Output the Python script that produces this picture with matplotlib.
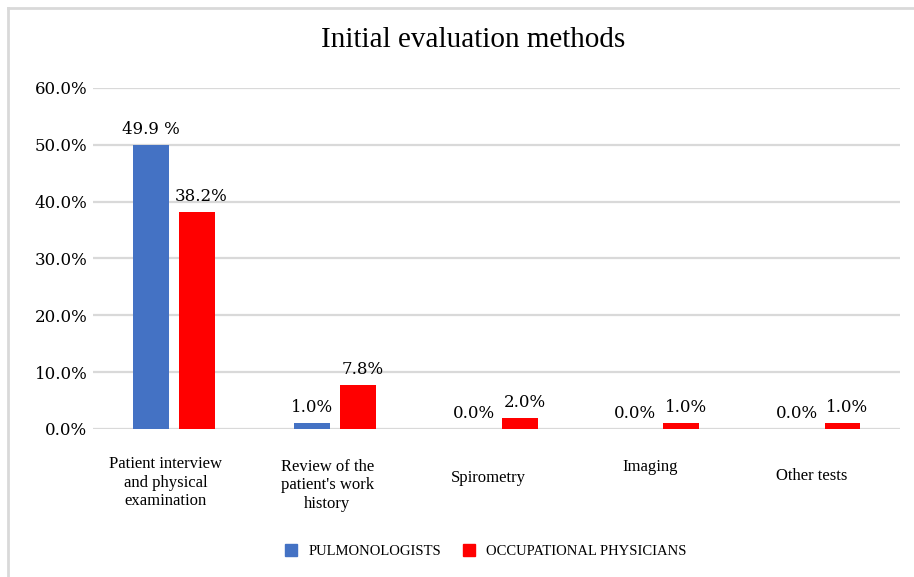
import matplotlib.pyplot as plt
import matplotlib.transforms as mtransforms
from matplotlib.lines import Line2D
import numpy as np

plt.rcParams['font.family'] = ['Liberation Serif', 'DejaVu Serif']

categories = ["Patient interview\nand physical\nexamination",
              "Review of the\npatient's work\nhistory",
              "Spirometry", "Imaging", "Other tests"]
pulmo = [49.9, 1.0, 0.0, 0.0, 0.0]
occup = [38.2, 7.8, 2.0, 1.0, 1.0]
pulmo_labels = ["49.9 %", "1.0%", "0.0%", "0.0%", "0.0%"]
occup_labels = ["38.2%", "7.8%", "2.0%", "1.0%", "1.0%"]
yticks = [0, 10, 20, 30, 40, 50, 60]

blue = '#4472C4'
red = '#FF0000'
num_font = ['DejaVu Serif']

fig = plt.figure(figsize=(9.14, 5.77), dpi=100)
ax = fig.add_axes([0.1018, 0.2565, 0.8832, 0.591])

x = np.arange(len(categories))
w = 0.222
gap = 0.062
b1 = ax.bar(x - (w + gap) / 2, pulmo, w, color=blue, zorder=3)
b2 = ax.bar(x + (w + gap) / 2, occup, w, color=red, zorder=3)

for rect, lab in zip(b1, pulmo_labels):
    ax.annotate(lab, (rect.get_x() + rect.get_width() / 2, rect.get_height()),
                xytext=(0, 5), textcoords='offset points', ha='center', va='bottom',
                fontsize=12, family=num_font)
for rect, lab in zip(b2, occup_labels):
    ax.annotate(lab, (rect.get_x() + rect.get_width() / 2 + 0.03, rect.get_height()),
                xytext=(0, 5), textcoords='offset points', ha='center', va='bottom',
                fontsize=12, family=num_font)

ax.set_xlim(-0.5, len(categories) - 0.5)
ax.set_ylim(0, 60)
ax.set_yticks(yticks)
ax.set_yticklabels([f"{v:.1f}%" for v in yticks], fontsize=12, family=num_font)
ax.yaxis.grid(True, color='#D9D9D9', linewidth=1.6, zorder=0)
ax.tick_params(axis='y', length=0, pad=4)
ax.set_xticks([])
for s in ax.spines.values():
    s.set_visible(False)

# category names sit at slightly different heights under each group
trans = mtransforms.blended_transform_factory(ax.transData, ax.transAxes)
label_y = [-0.08, -0.088, -0.12, -0.088, -0.114]
for xi, name, yy in zip(x, categories, label_y):
    ax.text(xi - 0.05, yy, name, transform=trans, ha='center', va='top',
            fontsize=12, linespacing=1.2)

fig.text(0.518, 0.93, "Initial evaluation methods", ha='center', va='center', fontsize=21)

handles = [Line2D([], [], marker='s', linestyle='', color=blue, markersize=8),
           Line2D([], [], marker='s', linestyle='', color=red, markersize=8)]
fig.legend(handles, ["PULMONOLOGISTS", "OCCUPATIONAL PHYSICIANS"], loc='center',
           bbox_to_anchor=(0.527, 0.045), ncol=2, frameon=False, fontsize=10.5,
           handletextpad=0.2, columnspacing=0.9)

# light frame along the top and left edge
fig.add_artist(Line2D([0.009, 0.009], [0, 0.986], color='#D9D9D9', linewidth=2, transform=fig.transFigure))
fig.add_artist(Line2D([0.009, 1.0], [0.986, 0.986], color='#D9D9D9', linewidth=2, transform=fig.transFigure))

fig.savefig('out.png', dpi=100)
